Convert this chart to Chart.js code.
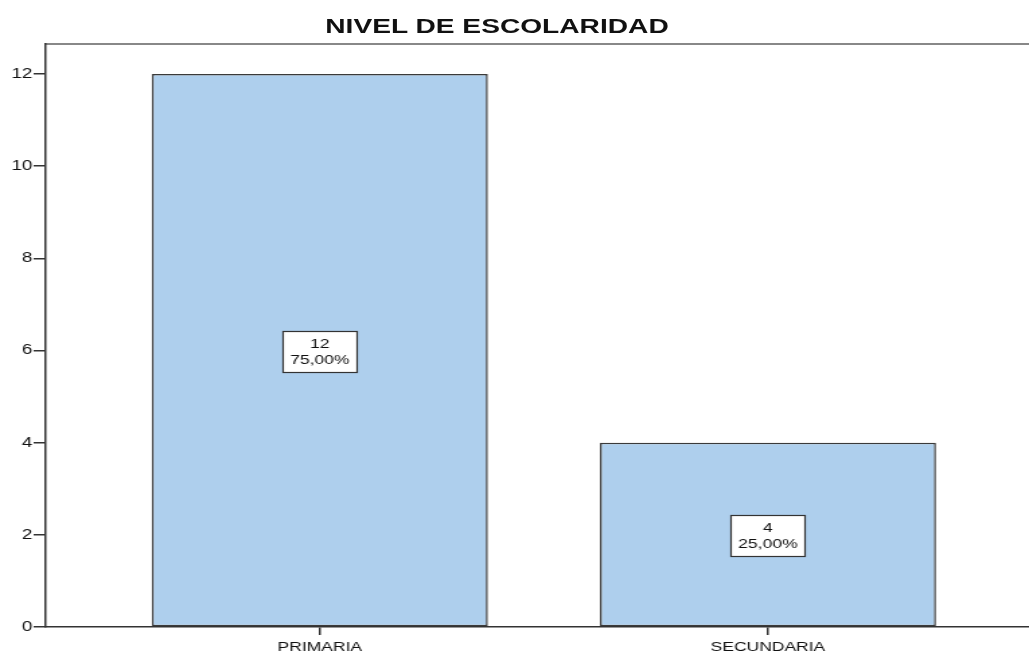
<!DOCTYPE html>
<html>
<head>
<meta charset="utf-8">
<script src="https://cdn.jsdelivr.net/npm/chart.js@4/dist/chart.umd.min.js"></script>
<style>
  html, body { margin: 0; padding: 0; background: #fff; }
  #wrap { position: relative; width: 1029px; height: 655px; overflow: hidden; }
  #title { position: absolute; left: 297px; width: 400px; top: 14px; text-align: center;
           font-family: "Liberation Sans", Arial, sans-serif; font-weight: bold; font-size: 21px; color: #111;
           transform: scaleX(1.34); transform-origin: 50% 50%; white-space: nowrap; }
  canvas { position: absolute; left: 0; top: 0; width: 1029px !important; height: 655px !important; }
</style>
</head>
<body>
<div id="wrap">
  <canvas id="c" width="765" height="655"></canvas>
  <div id="title">NIVEL DE ESCOLARIDAD</div>
</div>
<script>
const categories = ["PRIMARIA", "SECUNDARIA"];
const counts = [12, 4];
const yTicks = [0, 2, 4, 6, 8, 10, 12];

const total = counts.reduce((a, b) => a + b, 0);
const pctLabels = counts.map(v => (v / total * 100).toFixed(2).replace('.', ',') + '%');

const FONT = '"Liberation Sans", Arial, sans-serif';

const labelBoxes = {
  id: 'labelBoxes',
  afterDatasetsDraw(chart) {
    const ctx = chart.ctx;
    const meta = chart.getDatasetMeta(0);
    ctx.save();
    ctx.font = '13px ' + FONT;
    meta.data.forEach((bar, i) => {
      const cx = bar.x;
      const cy = (bar.y + bar.base) / 2 + 1;
      const w = 55, h = 41;
      const x0 = Math.round(cx - w / 2) + 0.5, y0 = Math.round(cy - h / 2) + 0.5;
      ctx.fillStyle = '#ffffff';
      ctx.fillRect(x0, y0, w, h);
      ctx.strokeStyle = '#333';
      ctx.lineWidth = 1.2;
      ctx.strokeRect(x0, y0, w, h);
      ctx.fillStyle = '#111';
      ctx.textAlign = 'center';
      ctx.textBaseline = 'middle';
      ctx.fillText(String(counts[i]), cx, cy - 7);
      ctx.fillText(pctLabels[i], cx, cy + 9);
    });
    ctx.restore();
  }
};

new Chart(document.getElementById('c'), {
  type: 'bar',
  data: {
    datasets: [{
      data: categories.map((c, i) => ({ x: i, y: counts[i] })),
      backgroundColor: '#aecfed',
      borderColor: '#3a3a3a',
      borderWidth: 1.5,
      borderSkipped: false,
      categoryPercentage: 1,
      barPercentage: 0.75
    }]
  },
  options: {
    responsive: false,
    animation: false,
    devicePixelRatio: 1,
    layout: { padding: 0 },
    plugins: { legend: { display: false }, tooltip: { enabled: false }, title: { display: false } },
    scales: {
      x: {
        type: 'linear',
        position: 'bottom',
        min: -0.6116,
        max: 1.5826,
        offset: false,
        afterBuildTicks: s => { s.ticks = categories.map((c, i) => ({ value: i })); },
        afterFit: s => { s.height = 28; },
        ticks: {
          autoSkip: false,
          maxRotation: 0,
          padding: 5,
          color: '#111',
          font: { family: FONT, size: 13 },
          callback: v => categories[v]
        },
        grid: { offset: false, drawOnChartArea: false, tickLength: 8, color: '#333', lineWidth: 1.5 },
        border: { color: '#333', width: 1.5 }
      },
      xTop: {
        type: 'linear',
        position: 'top',
        min: 0, max: 1,
        afterFit: s => { s.height = 44; },
        ticks: { display: false },
        grid: { display: false },
        border: { display: true, color: '#888', width: 2 }
      },
      y: {
        min: 0,
        max: 12.65,
        afterBuildTicks: s => { s.ticks = yTicks.map(v => ({ value: v })); },
        afterFit: s => { s.width = 34; },
        ticks: {
          includeBounds: false,
          padding: 1,
          color: '#111',
          font: { family: FONT, size: 14 }
        },
        grid: { drawOnChartArea: false, tickLength: 9, color: '#333', lineWidth: 1.5 },
        border: { color: '#333', width: 1.5 }
      }
    }
  },
  plugins: [labelBoxes]
});
</script>
</body>
</html>
